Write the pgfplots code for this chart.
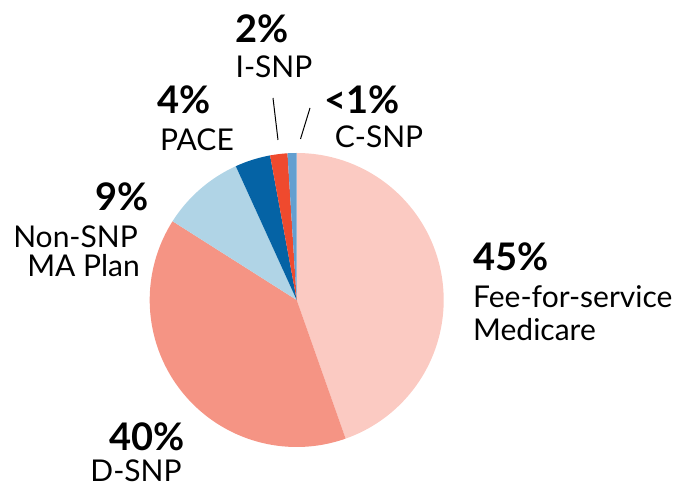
\documentclass[border=0pt]{standalone}
\usepackage{pgfplots}
\pgfplotsset{compat=1.18}
\usepackage{fontspec}
\setmainfont{Lato}
\definecolor{cffs}{HTML}{FBCAC2}
\definecolor{cdsnp}{HTML}{F59484}
\definecolor{cnon}{HTML}{B0D4E6}
\definecolor{cpace}{HTML}{0563A5}
\definecolor{cisnp}{HTML}{EF4A2E}
\definecolor{ccsnp}{HTML}{639FD0}
\newcommand{\cx}{296.7}
\newcommand{\cy}{187}
\newcommand{\rr}{147}
\tikzset{lab/.style={font=\fontsize{30}{34}\selectfont,inner sep=0pt},
  pct/.style={font=\fontsize{38}{40}\selectfont\bfseries,inner sep=0pt}}
\begin{document}
\begin{tikzpicture}
\begin{axis}[x=1pt,y=1pt,xmin=0,xmax=683,ymin=0,ymax=487,hide axis,clip=false]
\addplot[draw=none,forget plot] coordinates {(0,0) (683,487)};
% wedges: domain in percent, cumulative from 12 o'clock clockwise
\addplot[fill=cffs,draw=none,domain=0:44.6,samples=120,variable=\t]
  ({\cx+\rr*sin(3.6*\t)},{\cy+\rr*cos(3.6*\t)}) -- (axis cs:\cx,\cy) -- cycle;
\addplot[fill=cdsnp,draw=none,domain=44.6:84.0,samples=120,variable=\t]
  ({\cx+\rr*sin(3.6*\t)},{\cy+\rr*cos(3.6*\t)}) -- (axis cs:\cx,\cy) -- cycle;
\addplot[fill=cnon,draw=none,domain=84.0:93.2,samples=40,variable=\t]
  ({\cx+\rr*sin(3.6*\t)},{\cy+\rr*cos(3.6*\t)}) -- (axis cs:\cx,\cy) -- cycle;
\addplot[fill=cpace,draw=none,domain=93.2:97.1,samples=20,variable=\t]
  ({\cx+\rr*sin(3.6*\t)},{\cy+\rr*cos(3.6*\t)}) -- (axis cs:\cx,\cy) -- cycle;
\addplot[fill=cisnp,draw=none,domain=97.1:99.0,samples=10,variable=\t]
  ({\cx+\rr*sin(3.6*\t)},{\cy+\rr*cos(3.6*\t)}) -- (axis cs:\cx,\cy) -- cycle;
\addplot[fill=ccsnp,draw=none,domain=99.0:100,samples=10,variable=\t]
  ({\cx+\rr*sin(3.6*\t)},{\cy+\rr*cos(3.6*\t)}) -- (axis cs:\cx,\cy) -- cycle;
% leader lines
\addplot[black,line width=1pt] coordinates {(273,389) (278,347)};
\addplot[black,line width=1pt] coordinates {(310,379) (300.5,348)};
% labels
\node[anchor=west,pct] at (axis cs:473,230) {45\%};
\node[anchor=west,lab] at (axis cs:473,190) {Fee-for-service};
\node[anchor=west,lab] at (axis cs:473,157) {Medicare};
\node[pct] at (axis cs:147,50) {40\%};
\node[lab] at (axis cs:136,16) {D-SNP};
\node[anchor=east,pct] at (axis cs:149,290) {9\%};
\node[anchor=east,lab] at (axis cs:138,250) {Non-SNP};
\node[anchor=east,lab] at (axis cs:140,221) {MA Plan};
\node[pct] at (axis cs:184,387) {4\%};
\node[lab] at (axis cs:197,347) {PACE};
\node[pct] at (axis cs:262,458) {2\%};
\node[lab] at (axis cs:274,420) {I-SNP};
\node[pct] at (axis cs:362,387) {<1\%};
\node[lab] at (axis cs:379,350) {C-SNP};
\end{axis}
\end{tikzpicture}
\end{document}
